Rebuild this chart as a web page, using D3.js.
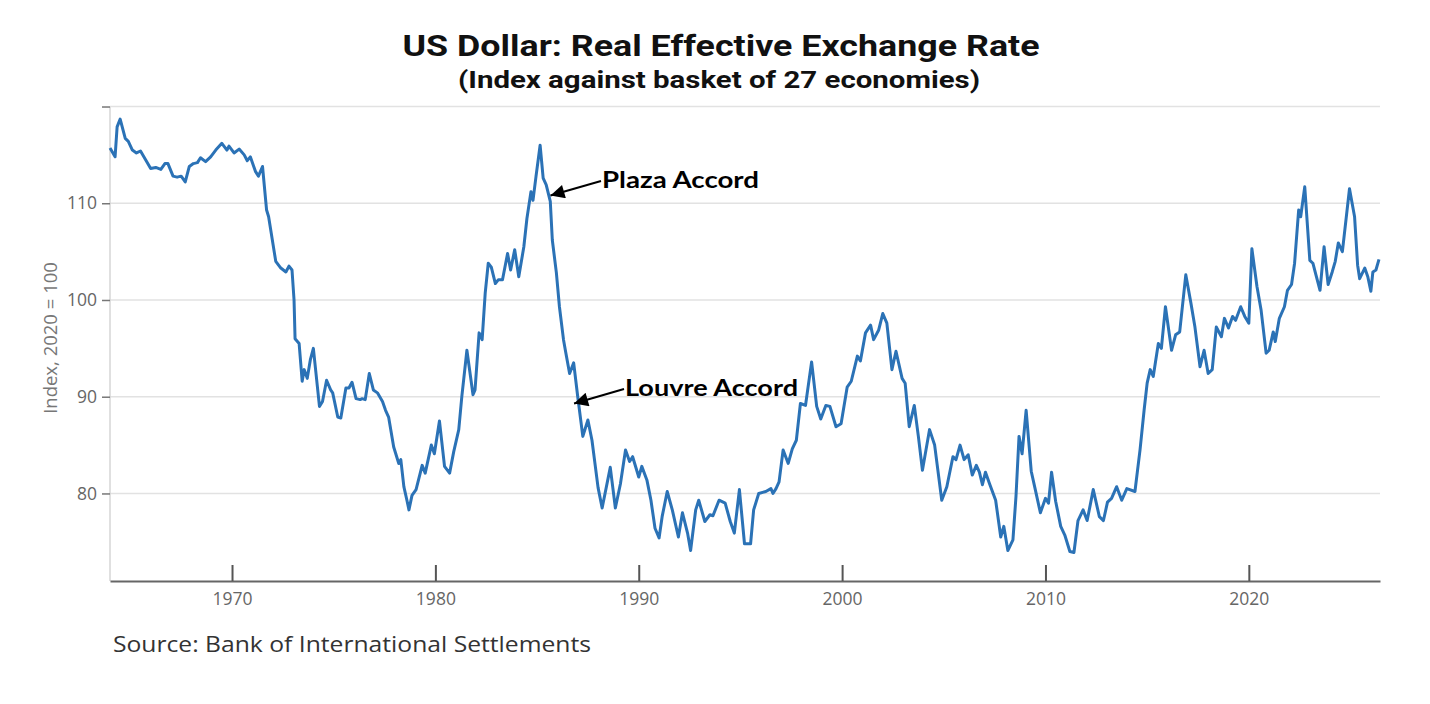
<!DOCTYPE html>
<html>
<head>
<meta charset="utf-8">
<script src="https://cdn.jsdelivr.net/npm/d3@7"></script>
<style>
  body { margin: 0; background: #fff; }
  svg { display: block; }
</style>
</head>
<body>
<svg id="chart" width="1430" height="704"></svg>
<script>
// decimal years
var years = [
  1964.0, 1964.25, 1964.35, 1964.5, 1964.75, 1964.9, 1965.1, 1965.3, 1965.5, 1965.75,
  1966.0, 1966.25, 1966.5, 1966.7, 1966.85, 1967.1, 1967.3, 1967.5, 1967.7, 1967.9,
  1968.1, 1968.3, 1968.45, 1968.7, 1968.95, 1969.2, 1969.5, 1969.75, 1969.85, 1970.1,
  1970.35, 1970.6, 1970.75, 1970.9, 1971.15, 1971.3, 1971.5, 1971.7, 1971.8, 1972.15,
  1972.4, 1972.65, 1972.8, 1972.95, 1973.05, 1973.1, 1973.3, 1973.45, 1973.55, 1973.7,
  1973.85, 1974.0, 1974.3, 1974.45, 1974.65, 1974.85, 1974.95, 1975.2, 1975.35, 1975.6,
  1975.75, 1975.9, 1976.1, 1976.3, 1976.4, 1976.55, 1976.75, 1976.95, 1977.15, 1977.4,
  1977.55, 1977.7, 1977.95, 1978.2, 1978.3, 1978.45, 1978.6, 1978.7, 1978.85, 1979.05,
  1979.35, 1979.5, 1979.8, 1979.95, 1980.2, 1980.45, 1980.7, 1980.9, 1981.15, 1981.3,
  1981.55, 1981.85, 1981.95, 1982.15, 1982.3, 1982.45, 1982.6, 1982.75, 1982.95, 1983.1,
  1983.3, 1983.55, 1983.7, 1983.9, 1984.1, 1984.35, 1984.5, 1984.7, 1984.8, 1984.95,
  1985.15, 1985.3, 1985.45, 1985.65, 1985.75, 1985.95, 1986.1, 1986.3, 1986.4, 1986.6,
  1986.8, 1987.0, 1987.25, 1987.5, 1987.7, 1988.0, 1988.2, 1988.6, 1988.85, 1989.1,
  1989.35, 1989.55, 1989.7, 1990.0, 1990.15, 1990.4, 1990.6, 1990.8, 1991.0, 1991.15,
  1991.4, 1991.65, 1991.95, 1992.15, 1992.4, 1992.55, 1992.8, 1992.95, 1993.25, 1993.5,
  1993.65, 1993.95, 1994.25, 1994.5, 1994.7, 1994.95, 1995.2, 1995.5, 1995.65, 1995.9,
  1996.25, 1996.5, 1996.6, 1996.75, 1996.9, 1997.1, 1997.35, 1997.55, 1997.75, 1997.95,
  1998.2, 1998.5, 1998.75, 1998.95, 1999.2, 1999.4, 1999.7, 1999.95, 2000.25, 2000.45,
  2000.75, 2000.9, 2001.15, 2001.4, 2001.55, 2001.8, 2002.0, 2002.2, 2002.45, 2002.65,
  2002.95, 2003.1, 2003.3, 2003.55, 2003.75, 2003.95, 2004.3, 2004.55, 2004.9, 2005.15,
  2005.45, 2005.6, 2005.8, 2006.0, 2006.2, 2006.4, 2006.6, 2006.75, 2006.9, 2007.05,
  2007.25, 2007.55, 2007.8, 2007.95, 2008.15, 2008.4, 2008.55, 2008.7, 2008.85, 2009.05,
  2009.3, 2009.5, 2009.75, 2010.0, 2010.15, 2010.3, 2010.5, 2010.75, 2010.95, 2011.2,
  2011.4, 2011.6, 2011.85, 2012.05, 2012.35, 2012.65, 2012.85, 2013.05, 2013.25, 2013.5,
  2013.75, 2014.0, 2014.4, 2014.65, 2014.85, 2015.0, 2015.15, 2015.3, 2015.55, 2015.7,
  2015.9, 2016.2, 2016.4, 2016.6, 2016.9, 2017.15, 2017.35, 2017.6, 2017.8, 2018.0,
  2018.2, 2018.4, 2018.65, 2018.8, 2019.0, 2019.2, 2019.35, 2019.6, 2019.8, 2020.0,
  2020.15, 2020.4, 2020.6, 2020.85, 2021.0, 2021.2, 2021.3, 2021.5, 2021.75, 2021.9,
  2022.1, 2022.25, 2022.45, 2022.55, 2022.75, 2023.0, 2023.15, 2023.3, 2023.5, 2023.7,
  2023.9, 2024.1, 2024.25, 2024.4, 2024.6, 2024.95, 2025.2, 2025.35, 2025.45, 2025.7,
  2025.85, 2026.0, 2026.1, 2026.25, 2026.4
]

var reer = [
  115.7, 114.8, 117.9, 118.7, 116.7, 116.4, 115.5, 115.2, 115.4, 114.5,
  113.6, 113.7, 113.5, 114.1, 114.1, 112.8, 112.7, 112.8, 112.2, 113.8,
  114.1, 114.2, 114.7, 114.3, 114.8, 115.5, 116.2, 115.5, 115.9, 115.2,
  115.6, 115.0, 114.4, 114.8, 113.3, 112.8, 113.8, 109.3, 108.6, 104.0,
  103.3, 102.9, 103.5, 103.1, 100.0, 96.0, 95.5, 91.6, 92.8, 91.9,
  93.8, 95.0, 89.0, 89.5, 91.7, 90.7, 90.4, 87.9, 87.8, 90.9,
  90.9, 91.5, 89.8, 89.7, 89.8, 89.7, 92.4, 90.7, 90.4, 89.5,
  88.6, 87.9, 84.8, 83.1, 83.5, 80.7, 79.3, 78.3, 79.8, 80.4,
  82.9, 82.1, 85.0, 84.1, 87.5, 82.8, 82.1, 84.3, 86.6, 90.0,
  94.8, 90.2, 90.7, 96.6, 95.9, 100.7, 103.8, 103.4, 101.7, 102.1,
  102.1, 104.8, 103.1, 105.2, 102.4, 105.5, 108.4, 111.2, 110.3, 112.8,
  116.0, 112.6, 111.9, 110.2, 106.2, 102.8, 99.3, 95.9, 94.7, 92.4,
  93.5, 90.0, 85.9, 87.6, 85.5, 80.6, 78.5, 82.7, 78.5, 81.0,
  84.5, 83.3, 83.8, 81.7, 82.8, 81.4, 79.3, 76.4, 75.4, 77.6,
  80.2, 78.3, 75.5, 78.0, 75.9, 74.1, 78.3, 79.3, 77.1, 77.8,
  77.7, 79.3, 79.0, 77.1, 75.9, 80.4, 74.8, 74.8, 78.3, 80.0,
  80.2, 80.5, 80.0, 80.5, 81.2, 84.5, 83.1, 84.6, 85.5, 89.3,
  89.1, 93.6, 89.0, 87.7, 89.1, 89.0, 86.9, 87.2, 91.0, 91.6,
  94.2, 93.7, 96.6, 97.4, 95.9, 96.9, 98.6, 97.6, 92.8, 94.7,
  91.9, 91.4, 86.9, 89.1, 85.9, 82.4, 86.6, 85.0, 79.3, 80.7,
  83.8, 83.5, 85.0, 83.5, 84.0, 81.9, 82.9, 82.2, 80.9, 82.2,
  81.0, 79.3, 75.5, 76.6, 74.1, 75.2, 79.7, 85.9, 84.1, 88.6,
  82.3, 80.4, 78.0, 79.5, 79.0, 82.2, 79.2, 76.6, 75.7, 74.0,
  73.9, 77.2, 78.3, 77.2, 80.4, 77.6, 77.2, 79.1, 79.5, 80.7,
  79.3, 80.5, 80.2, 84.5, 88.6, 91.4, 92.8, 92.1, 95.5, 95.0,
  99.3, 94.8, 96.4, 96.7, 102.6, 99.7, 97.2, 93.1, 94.8, 92.4,
  92.8, 97.2, 96.2, 98.1, 97.1, 98.3, 97.9, 99.3, 98.3, 97.6,
  105.3, 101.4, 99.0, 94.5, 94.8, 96.7, 95.7, 98.1, 99.3, 101.0,
  101.6, 103.8, 109.3, 108.6, 111.7, 104.1, 103.8, 102.6, 101.0, 105.5,
  101.6, 102.9, 104.0, 105.9, 105.0, 111.5, 108.6, 103.6, 102.2, 103.3,
  102.4, 100.9, 102.9, 103.1, 104.2
]

var xTicks = [1970, 1980, 1990, 2000, 2010, 2020]
var yTicks = [80, 90, 100, 110, 120]

// arrow tip (year, value) and where the label starts
var notes = [
  { label: 'Plaza Accord', year: 1985.66, value: 110.8, tx: 602, ty: 188, width: 157 },
  { label: 'Louvre Accord', year: 1986.82, value: 89.3, tx: 625, ty: 396, width: 173 }
]

var plotLeft = 110, plotRight = 1380, plotTop = 107, plotBottom = 581

var svg = d3.select('#chart')

var x = d3.scaleLinear()
  .domain([1964, 2026.45])
  .range([plotLeft, plotRight])
var y = d3.scaleLinear()
  .domain([70.95, 119.95])
  .range([plotBottom, plotTop])

// gridlines
svg.append('g')
  .selectAll('line')
  .data(yTicks)
  .enter()
  .append('line')
  .attr('x1', plotLeft)
  .attr('x2', plotRight)
  .attr('y1', function(d) { return y(d) })
  .attr('y2', function(d) { return y(d) })
  .attr('stroke', '#e2e2e2')
  .attr('stroke-width', 1.5)

svg.append('line')
  .attr('x1', plotLeft).attr('x2', plotLeft)
  .attr('y1', plotTop).attr('y2', plotBottom)
  .attr('stroke', '#d6d6d6')
  .attr('stroke-width', 1.5)

var yAxis = svg.append('g')
  .attr('transform', 'translate(' + plotLeft + ',0)')
  .call(d3.axisLeft(y)
    .tickValues(yTicks)
    .tickSize(8)
    .tickPadding(5)
    .tickFormat(function(d) { return d === 120 ? '' : d }))
yAxis.select('.domain').remove()
yAxis.selectAll('line').attr('stroke', '#777').attr('stroke-width', 1.5)
yAxis.selectAll('text')
  .attr('fill', '#666')
  .style('font-family', '"Open Sans", sans-serif')
  .style('font-size', '17.5px')

var xAxis = svg.append('g')
  .attr('transform', 'translate(0,' + plotBottom + ')')
  .call(d3.axisBottom(x)
    .tickValues(xTicks)
    .tickSize(-16)
    .tickSizeOuter(0)
    .tickPadding(12)
    .tickFormat(d3.format('d')))
xAxis.select('.domain').attr('stroke', '#666').attr('stroke-width', 1.8)
xAxis.selectAll('line').attr('stroke', '#555').attr('stroke-width', 2)
xAxis.selectAll('text')
  .attr('fill', '#666')
  .style('font-family', '"Open Sans", sans-serif')
  .style('font-size', '17.5px')

svg.append('text')
  .attr('transform', 'translate(57,338) rotate(-90)')
  .attr('text-anchor', 'middle')
  .attr('fill', '#777')
  .style('font-family', '"Open Sans", sans-serif')
  .style('font-size', '18.5px')
  .text('Index, 2020 = 100')

// the series
var line = d3.line()
  .x(function(d) { return x(d[0]) })
  .y(function(d) { return y(d[1]) })

svg.append('path')
  .datum(d3.zip(years, reer))
  .attr('d', line)
  .attr('fill', 'none')
  .attr('stroke', '#2b72b6')
  .attr('stroke-width', 3)
  .attr('stroke-linejoin', 'round')

// titles
svg.append('text')
  .attr('x', 721).attr('y', 56)
  .attr('text-anchor', 'middle')
  .attr('textLength', 637)
  .attr('lengthAdjust', 'spacingAndGlyphs')
  .style('font-family', 'Roboto, sans-serif')
  .style('font-weight', 700)
  .style('font-size', '30px')
  .attr('fill', '#111')
  .text('US Dollar: Real Effective Exchange Rate')

svg.append('text')
  .attr('x', 719).attr('y', 88)
  .attr('text-anchor', 'middle')
  .attr('textLength', 522)
  .attr('lengthAdjust', 'spacingAndGlyphs')
  .style('font-family', 'Roboto, sans-serif')
  .style('font-weight', 700)
  .style('font-size', '24px')
  .attr('fill', '#111')
  .text('(Index against basket of 27 economies)')

svg.append('text')
  .attr('x', 113).attr('y', 652)
  .attr('textLength', 478)
  .attr('lengthAdjust', 'spacingAndGlyphs')
  .style('font-family', '"Open Sans", sans-serif')
  .style('font-size', '22px')
  .attr('fill', '#333')
  .text('Source: Bank of International Settlements')

// annotations
svg.append('defs').append('marker')
  .attr('id', 'head')
  .attr('viewBox', '0 0 10 10')
  .attr('refX', 10).attr('refY', 5)
  .attr('markerWidth', 20).attr('markerHeight', 14)
  .attr('markerUnits', 'userSpaceOnUse')
  .attr('orient', 'auto')
  .append('path')
  .attr('d', 'M0,0L10,5L0,10Z')
  .attr('fill', '#000')

var ann = svg.append('g')
ann.selectAll('line')
  .data(notes)
  .enter()
  .append('line')
  .attr('x1', function(d) { return d.tx - 1 })
  .attr('y1', function(d) { return d.ty - 7 })
  .attr('x2', function(d) { return x(d.year) })
  .attr('y2', function(d) { return y(d.value) })
  .attr('stroke', '#000')
  .attr('stroke-width', 2)
  .attr('marker-end', 'url(#head)')

ann.selectAll('text')
  .data(notes)
  .enter()
  .append('text')
  .attr('x', function(d) { return d.tx })
  .attr('y', function(d) { return d.ty })
  .attr('textLength', function(d) { return d.width })
  .attr('lengthAdjust', 'spacingAndGlyphs')
  .style('font-family', 'Lato, sans-serif')
  .style('font-weight', 700)
  .style('font-size', '23px')
  .attr('fill', '#000')
  .text(function(d) { return d.label })
</script>
</body>
</html>
